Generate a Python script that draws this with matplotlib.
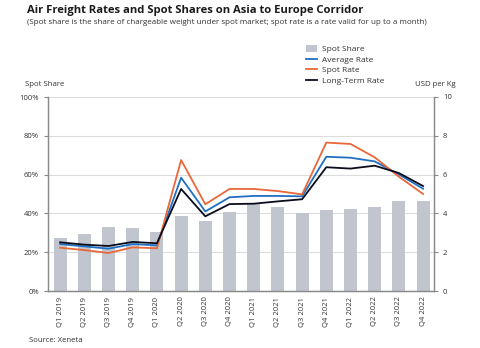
import matplotlib
matplotlib.use("Agg")
import matplotlib.pyplot as plt
from matplotlib.ticker import PercentFormatter

plt.rcParams['font.family'] = ['Open Sans', 'DejaVu Sans']

quarters = ['Q1 2019', 'Q2 2019', 'Q3 2019', 'Q4 2019',
            'Q1 2020', 'Q2 2020', 'Q3 2020', 'Q4 2020',
            'Q1 2021', 'Q2 2021', 'Q3 2021', 'Q4 2021',
            'Q1 2022', 'Q2 2022', 'Q3 2022', 'Q4 2022']
spot_share = [27.3, 29.2, 33.2, 32.5, 30.6, 38.8, 36.2, 40.7,
              44.8, 43.5, 40.4, 41.6, 42.1, 43.3, 46.5, 46.2]
average_rate = [2.42, 2.30, 2.18, 2.42, 2.35, 5.84, 4.10, 4.83,
                4.90, 4.90, 4.88, 6.92, 6.87, 6.68, 6.01, 5.27]
spot_rate = [2.23, 2.11, 1.96, 2.25, 2.20, 6.75, 4.47, 5.26,
             5.26, 5.15, 4.98, 7.65, 7.58, 6.89, 5.89, 5.00]
long_term_rate = [2.51, 2.39, 2.32, 2.53, 2.46, 5.26, 3.85, 4.48,
                  4.50, 4.62, 4.73, 6.38, 6.31, 6.46, 6.08, 5.41]

bar_col = '#c1c6ce'
blue = '#1f6fc3'
orange = '#e8683a'
black = '#0b0d1c'
grid_col = '#dcdcdc'
axis_col = '#8a8a8a'
txt = '#333333'

fig = plt.figure(figsize=(4.8, 3.48), dpi=100)
ax = fig.add_axes([48/480, 1 - 291/348, (434-48)/480, (291-97)/348])
x = range(len(quarters))

ax.bar(x, spot_share, width=0.53, color=bar_col, zorder=2, label='Spot Share')
ax.set_ylim(0, 100)
ax.set_xlim(-0.5, 15.45)
ax.yaxis.set_major_formatter(PercentFormatter(decimals=0))
ax.set_yticks([0, 20, 40, 60, 80, 100])
ax.grid(axis='y', color=grid_col, linewidth=0.8, zorder=0)
ax.set_axisbelow(True)
ax.set_xticks(list(x))
ax.set_xticklabels(quarters, rotation=90, fontsize=5.5, color=txt)
ax.tick_params(axis='y', labelsize=5.5, colors=txt, length=3, color=axis_col, width=0.8)
ax.tick_params(axis='x', length=0, pad=4)

ax2 = ax.twinx()
ax2.plot(x, average_rate, color=blue, lw=1.3, label='Average Rate', zorder=3)
ax2.plot(x, spot_rate, color=orange, lw=1.3, label='Spot Rate', zorder=3)
ax2.plot(x, long_term_rate, color=black, lw=1.3, label='Long-Term Rate', zorder=3)
ax2.set_ylim(0, 10)
ax2.set_yticks([0, 2, 4, 6, 8, 10])
ax2.tick_params(axis='y', labelsize=5.5, colors=txt, length=3, color=axis_col, width=0.8)

for a in (ax, ax2):
    a.spines['top'].set_visible(False)
    for s in ('left', 'right', 'bottom'):
        a.spines[s].set_color(axis_col)
        a.spines[s].set_linewidth(0.9)

h1, l1 = ax.get_legend_handles_labels()
h2, l2 = ax2.get_legend_handles_labels()
fig.legend(h1 + h2, l1 + l2, loc='upper left', bbox_to_anchor=(302/480, 1 - 41/348),
           frameon=False, fontsize=6, handlelength=1.3, handleheight=0.8,
           labelspacing=0.3, borderpad=0, handletextpad=0.6, labelcolor=txt)

fig.text(27/480, 1 - 11/348, 'Air Freight Rates and Spot Shares on Asia to Europe Corridor',
         fontsize=8.1, fontweight='bold', color='#1a1a1a', va='center')
fig.text(27/480, 1 - 22/348, '(Spot share is the share of chargeable weight under spot market; '
         'spot rate is a rate valid for up to a month)',
         fontsize=5.75, color=txt, va='center')
fig.text(25/480, 1 - 85/348, 'Spot Share', fontsize=5.6, color=txt, va='center')
fig.text(435/480, 1 - 84/348, 'USD per Kg', fontsize=5.6, color=txt, va='center', ha='center')
fig.text(29/480, 1 - 341/348, 'Source: Xeneta', fontsize=5.6, color=txt, va='center')

fig.savefig('out.png', dpi=100)
